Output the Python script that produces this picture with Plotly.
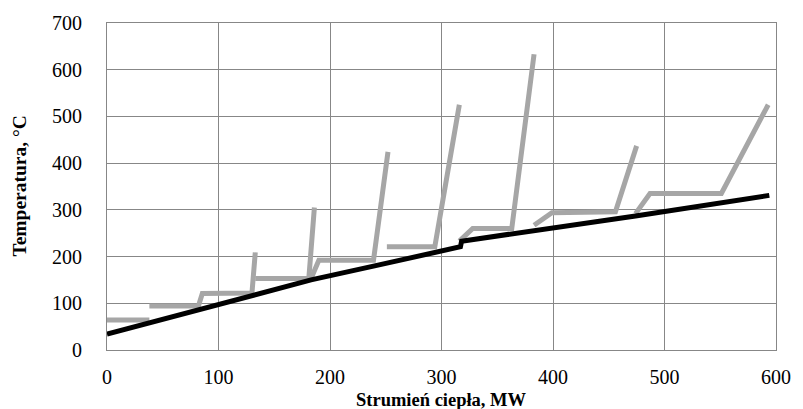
import plotly.graph_objects as go

# Black line (two pieces joined with a small step at ~317 MW)
black_x = [0, 38, 85, 131, 183, 240, 290, 317, 318, 400, 474, 594]
black_y = [34, 58, 88, 117, 150, 180, 205, 221, 233, 260, 287, 331]

# Grey line: separate pieces
grey_pieces_x = [
    [0, 38],
    [38, 82, 85.5, 130, 133],
    [133, 181, 186],
    [183, 190, 239, 252],
    [251, 294, 316],
    [316, 328, 363, 383],
    [383, 399, 456, 475],
    [474, 487, 551, 593],
]
grey_pieces_y = [
    [64, 64],
    [94, 94, 121, 122, 209],
    [153, 153, 305],
    [153, 192, 192, 424],
    [221, 221, 525],
    [233, 260, 260, 633],
    [267, 294, 296, 437],
    [292, 335, 335, 525],
]

x_ticks = [0, 100, 200, 300, 400, 500, 600]
y_ticks = [0, 100, 200, 300, 400, 500, 600, 700]

gx, gy = [], []
for px, py in zip(grey_pieces_x, grey_pieces_y):
    gx += px + [None]
    gy += py + [None]

FONT = "Liberation Serif, Times New Roman, serif"
fig = go.Figure()
fig.add_trace(go.Scatter(x=gx, y=gy, mode="lines", connectgaps=False,
                         line=dict(color="#a6a6a6", width=5), showlegend=False))
fig.add_trace(go.Scatter(x=black_x, y=black_y, mode="lines",
                         line=dict(color="#000000", width=5), showlegend=False))

fig.update_layout(
    width=803, height=409,
    margin=dict(l=107, r=19, t=20, b=59),
    paper_bgcolor="white", plot_bgcolor="white",
    font=dict(family=FONT, size=20, color="black"),
    xaxis=dict(range=[0, 600], tickvals=x_ticks, showgrid=True, gridcolor="#878787",
               gridwidth=1, showline=True, linecolor="#878787", linewidth=1, mirror=True,
               zeroline=False, ticks="", ticklabelstandoff=9),
    yaxis=dict(range=[0, 700], tickvals=y_ticks, showgrid=True, gridcolor="#878787",
               gridwidth=1, showline=True, linecolor="#878787", linewidth=1, mirror=True,
               zeroline=False, ticks="", ticklabelstandoff=20),
    annotations=[
        dict(text="<b>Strumień ciepła, MW</b>", xref="paper", yref="paper",
             x=0.5, y=-0.152, xanchor="center", yanchor="middle", showarrow=False,
             font=dict(family=FONT, size=18.5)),
        dict(text="<b>Temperatura, °C</b>", xref="paper", yref="paper",
             x=-0.1315, y=0.5, xanchor="center", yanchor="middle", showarrow=False,
             textangle=-90, font=dict(family=FONT, size=19.5)),
    ],
)
fig.write_html("out.html")
